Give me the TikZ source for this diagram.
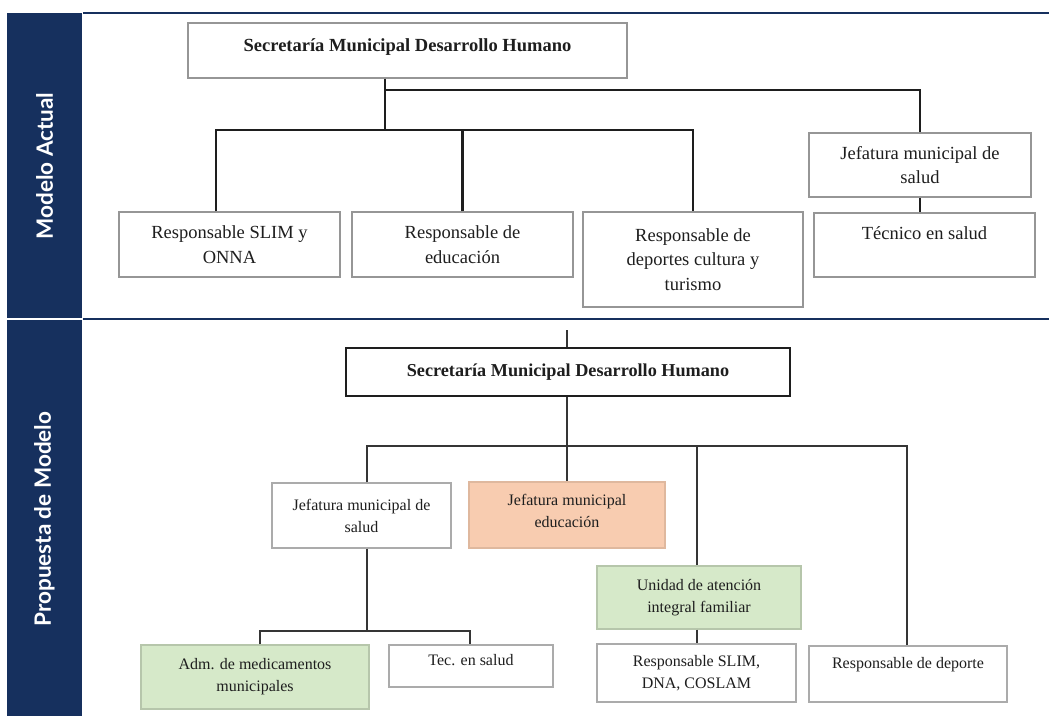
\documentclass[tikz,border=0pt]{standalone}
\usepackage{fontspec}
\setmainfont{Liberation Serif}
\newfontfamily\sidefont{Lato}
\definecolor{navy}{RGB}{22,48,94}
\definecolor{boxgray}{RGB}{150,150,150}
\definecolor{inkdark}{RGB}{30,30,30}
\definecolor{salmon}{RGB}{248,204,176}
\definecolor{leaf}{RGB}{214,233,201}
\begin{document}
\begin{tikzpicture}[x=1pt, y=-1pt,
  box/.style={draw=boxgray, line width=1.1pt, fill=white, align=center, inner sep=0pt,
    text=inkdark, font=\fontsize{18.5}{24.5}\selectfont},
  pbox/.style={box, draw=boxgray!80, line width=1.4pt, font=\fontsize{16}{22}\selectfont},
  headbox/.style={box, font=\fontsize{18.5}{24.5}\selectfont\bfseries},
  conn/.style={draw=inkdark, line width=2.8pt},
  pconn/.style={draw=inkdark!90, line width=2.5pt},
  sidebar/.style={fill=navy, draw=none},
  sidelabel/.style={text=white, rotate=90, font=\sidefont\bfseries\fontsize{22.5}{26}\selectfont},
  rule/.style={draw=navy, line width=1.3pt}
]
\useasboundingbox (0,0) rectangle (1049,716);
\fill[white] (0,0) rectangle (1049,716);

% side bands and section rules
\fill[sidebar] (7,13) rectangle (82,318);
\fill[sidebar] (7,320) rectangle (82,716);
\node[sidelabel] (lblA) at (44.5,166) {Modelo Actual};
\node[sidelabel] (lblB) at (44.5,519) {Propuesta de Modelo};
\draw[rule] (83,13) -- (1049,13);
\draw[rule] (83,319) -- (1049,319);

% ---------- current model ----------
\node[headbox, minimum width=439pt, minimum height=55pt, text depth=11pt] (secA) at (407.5,50.5)
  {Secretaría Municipal Desarrollo Humano};
\node[box, minimum width=221pt, minimum height=65pt] (slimA) at (229.5,244.5) {Responsable SLIM y\\ONNA};
\node[box, minimum width=221pt, minimum height=65pt] (eduA) at (462.5,244.5) {Responsable de\\educación};
\node[box, minimum width=220pt, minimum height=95pt] (depA) at (693,259.5) {Responsable de\\deportes cultura y\\turismo};
\node[box, minimum width=222pt, minimum height=64pt] (jefA) at (920,165) {Jefatura municipal de\\salud};
\node[box, minimum width=221pt, minimum height=64pt] (tecA) at (924.5,245) {Técnico en salud\\\mbox{}};

\coordinate (hubA) at (385,90);
\coordinate (busA) at (385,130);
\coordinate (busAL) at (216,130);
\draw[conn] (secA.south -| hubA) -- (busA);
\draw[conn] (hubA) -| (jefA.north);
\draw[conn] (busAL |- slimA.north) -- (busAL) -| (depA.north);
\draw[conn] (eduA.north) -- (eduA.north |- busA);
\draw[conn] (jefA.south) -- (jefA.south |- tecA.north);

% ---------- proposed model ----------
\coordinate (stemB) at (567,330);
\node[headbox, draw=inkdark, line width=2.4pt, minimum width=444pt, minimum height=48pt,
  font=\fontsize{18.2}{22}\selectfont\bfseries] (secB) at (568,372)
  {Secretaría Municipal Desarrollo Humano};
\node[pbox, minimum width=179pt, minimum height=65pt] (salB) at (361.5,515.5) {Jefatura municipal de\\salud};
\node[pbox, fill=salmon, draw=salmon!90!black, minimum width=196pt, minimum height=66pt, text depth=8pt] (eduB) at (567,515) {Jefatura municipal\\educación};
\node[pbox, fill=leaf, draw=leaf!85!black, minimum width=204pt, minimum height=63pt] (uniB) at (699,597.5) {Unidad de atención\\integral familiar};
\node[pbox, minimum width=199pt, minimum height=58pt] (slimB) at (696.5,673) {Responsable SLIM,\\DNA, COSLAM};
\node[pbox, minimum width=198pt, minimum height=56pt] (depB) at (908,674) {Responsable de deporte\\\mbox{}};
\node[pbox, fill=leaf, draw=leaf!85!black, minimum width=228pt, minimum height=64pt] (admB) at (255,677) {Adm. de medicamentos\\municipales};
\node[pbox, minimum width=164pt, minimum height=42pt, text depth=12pt] (tecB) at (471,666) {Tec. en salud};

\coordinate (busB) at (567,446);
\coordinate (busBL) at (367,446);
\coordinate (busBR) at (907,446);
\coordinate (uniX) at (697,446);
\coordinate (subB) at (367,631);
\coordinate (subBL) at (260,631);
\coordinate (subBR) at (470,631);

\draw[pconn] (stemB) -- (secB.north -| stemB);
\draw[pconn] (secB.south -| busB) -- (eduB.north -| busB);
\draw[pconn] (busBL |- salB.north) -- (busBL) -- (busBR) -- (busBR |- depB.north);
\draw[pconn] (uniX) -- (uniX |- uniB.north);
\draw[pconn] (uniB.south -| uniX) -- (slimB.north -| uniX);
\draw[pconn] (salB.south -| subB) -- (subB);
\draw[pconn] (subBL |- admB.north) -- (subBL) -- (subBR) -- (subBR |- tecB.north);
\end{tikzpicture}
\end{document}
